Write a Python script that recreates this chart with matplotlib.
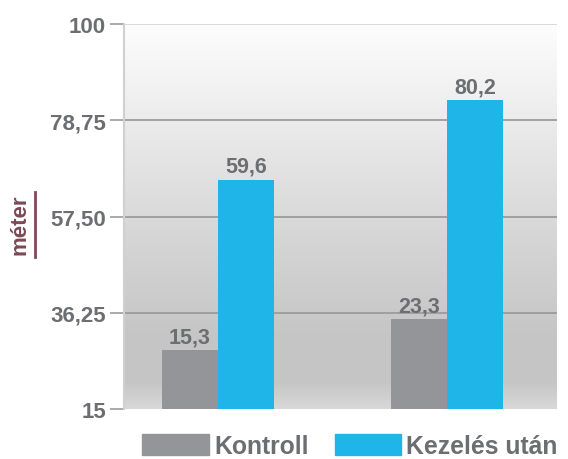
import matplotlib
matplotlib.use("Agg")
import matplotlib.pyplot as plt
import matplotlib.patches as mpatches
from matplotlib.lines import Line2D
import numpy as np
from matplotlib.colors import LinearSegmentedColormap

plt.rcParams['font.family'] = ['Liberation Sans', 'DejaVu Sans']

# data
groups = [0, 1]
kontroll = [15.3, 23.3]
kezeles = [59.6, 80.2]
kontroll_labels = ['15,3', '23,3']
kezeles_labels = ['59,6', '80,2']
ytick_values = [0, 25, 50, 75, 100]
ytick_labels = ['15', '36,25', '57,50', '78,75', '100']
series_names = ['Kontroll', 'Kezelés után']
ylabel = 'méter'

gray = '#939598'
blue = '#1fb5e8'
txt = '#6d6e71'

fig = plt.figure(figsize=(5.68, 4.60), dpi=100)
fig.patch.set_facecolor('white')
ax = fig.add_axes([124/568, 1-410/460, (557-124)/568, (410-25)/460])

# gradient background
cmap = LinearSegmentedColormap.from_list('bg', [
    (0.0, '#fdfdfd'), (0.2, '#efefef'), (0.55, '#d6d6d6'),
    (0.8, '#c6c6c6'), (0.93, '#c5c5c5'), (1.0, '#d8d8d8')])
grad = np.linspace(0, 1, 256).reshape(-1, 1)
ax.imshow(grad, extent=[0, 1, 0, 1], transform=ax.transAxes, aspect='auto',
          cmap=cmap, zorder=0, interpolation='bicubic')

w = 0.245
x = np.array(groups, dtype=float)
ax.bar(x - w/2, kontroll, width=w, color=gray, zorder=3, linewidth=0)
ax.bar(x + w/2, kezeles, width=w, color=blue, zorder=3, linewidth=0)

for xi, v, lab in zip(x - w/2, kontroll, kontroll_labels):
    ax.annotate(lab, (xi, v), xytext=(0, 2), textcoords='offset points',
                ha='center', va='bottom', fontsize=15.5, fontweight='bold', color=txt, zorder=4)
for xi, v, lab in zip(x + w/2, kezeles, kezeles_labels):
    ax.annotate(lab, (xi, v), xytext=(0, 2), textcoords='offset points',
                ha='center', va='bottom', fontsize=15.5, fontweight='bold', color=txt, zorder=4)

# gridlines
for yv in ytick_values[1:-1]:
    ax.axhline(yv, color='#9c9c9c', lw=1.3, zorder=1)
ax.axhline(ytick_values[-1], color='#d4d4d4', lw=1.2, zorder=1)

ax.set_xlim(-0.41, 1.48)
ax.set_ylim(0, 100)
ax.set_yticks(ytick_values)
ax.set_yticklabels(ytick_labels)
ax.set_xticks([])
ax.tick_params(axis='y', length=10, width=1.2, color='#9c9c9c', pad=3,
               labelsize=16, labelcolor=txt)
for lab in ax.get_yticklabels():
    lab.set_fontweight('bold')
for s in ['top', 'right', 'bottom']:
    ax.spines[s].set_visible(False)
ax.spines['left'].set_color('#d0d0d0')
ax.spines['left'].set_linewidth(1.5)

# y label with underline
fig.text(20/568, 1-225/460, ylabel, rotation=90, ha='center', va='center',
         fontsize=16, fontweight='bold', color='#7b4a55')
fig.add_artist(Line2D([35/568, 35/568], [1-193/460, 1-258/460],
                      transform=fig.transFigure, color='#7b4a55', lw=2))

handles = [mpatches.Patch(color=gray, label=series_names[0]),
           mpatches.Patch(color=blue, label=series_names[1])]
leg = fig.legend(handles=handles, loc='center', bbox_to_anchor=(350/568, 1-447/460),
                 ncol=2, frameon=False, handlelength=2.7, handleheight=0.9,
                 handletextpad=0.2, columnspacing=1.05,
                 prop={'size': 17.8, 'weight': 'bold'})
for t in leg.get_texts():
    t.set_color(txt)

fig.savefig('out.png', dpi=100, facecolor='white')
